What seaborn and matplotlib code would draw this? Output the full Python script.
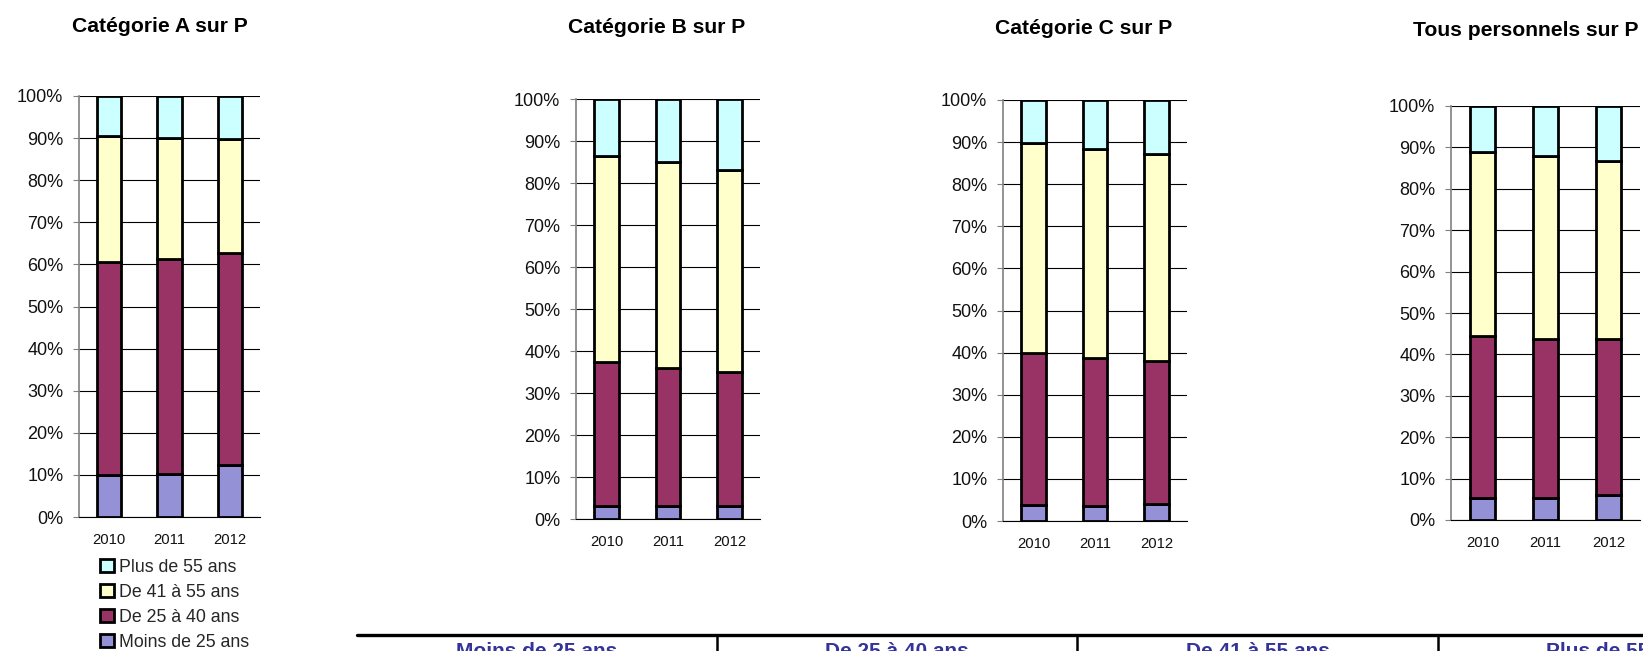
import matplotlib
matplotlib.use("Agg")
import matplotlib.pyplot as plt
import seaborn as sns
import numpy as np
from matplotlib.patches import Patch
from matplotlib.lines import Line2D

# ---------------- data ----------------
years = ["2010", "2011", "2012"]
age_groups = ["Moins de 25 ans", "De 25 à 40 ans", "De 41 à 55 ans", "Plus de 55 ans"]
panel_titles = ["Catégorie A sur P", "Catégorie B sur P", "Catégorie C sur P", "Tous personnels sur P"]

# percentages per age group (bottom to top) for 2010, 2011, 2012
cat_a_moins25 = [9.9, 10.3, 12.4]
cat_a_25_40 = [50.7, 51.1, 50.3]
cat_a_41_55 = [29.8, 28.6, 27.2]
cat_a_plus55 = [9.6, 10.0, 10.1]

cat_b_moins25 = [3.2, 3.0, 3.0]
cat_b_25_40 = [34.2, 33.0, 31.9]
cat_b_41_55 = [49.0, 48.9, 48.3]
cat_b_plus55 = [13.6, 15.1, 16.8]

cat_c_moins25 = [3.7, 3.5, 4.0]
cat_c_25_40 = [36.3, 35.1, 34.0]
cat_c_41_55 = [49.7, 49.8, 49.1]
cat_c_plus55 = [10.3, 11.6, 12.9]

tous_moins25 = [5.2, 5.3, 6.0]
tous_25_40 = [39.3, 38.5, 37.8]
tous_41_55 = [44.5, 44.1, 43.0]
tous_plus55 = [11.0, 12.1, 13.2]

y_ticks = list(range(0, 101, 10))
y_tick_labels = [f"{v}%" for v in y_ticks]

panels = [
    [cat_a_moins25, cat_a_25_40, cat_a_41_55, cat_a_plus55],
    [cat_b_moins25, cat_b_25_40, cat_b_41_55, cat_b_plus55],
    [cat_c_moins25, cat_c_25_40, cat_c_41_55, cat_c_plus55],
    [tous_moins25, tous_25_40, tous_41_55, tous_plus55],
]

colors = ["#9491D6", "#993366", "#FFFFCC", "#CCFFFF"]

# ---------------- style ----------------
sns.set_theme(style="white")
plt.rcParams["font.family"] = ["Liberation Sans", "DejaVu Sans"]

W, H = 1643, 651
fig = plt.figure(figsize=(W / 100, H / 100), dpi=100)

# axes rectangles in pixels: left, right, top, bottom
rects_px = [
    (79, 260, 96, 517),
    (576, 760, 99, 519),
    (1003, 1187, 100, 521),
    (1451, 1640, 106, 520),
]
title_px = [(160, 32), (657, 33), (1084, 34), (1526, 36)]

for idx, (series, (l, r, t, b)) in enumerate(zip(panels, rects_px)):
    ax = fig.add_axes([l / W, (H - b) / H, (r - l) / W, (b - t) / H])
    bottom = np.zeros(len(years))
    for vals, col in zip(series, colors):
        sns.barplot(x=years, y=vals, bottom=bottom, color=col, ax=ax,
                    width=0.4, edgecolor="black", linewidth=2.0,
                    saturation=1, errorbar=None, zorder=3)
        bottom = bottom + np.array(vals)
    ax.set_xlim(-0.5, 2.5)
    ax.set_ylim(0, 100)
    ax.set_yticks(y_ticks)
    ax.set_yticklabels(y_tick_labels, fontsize=13, color="#111111")
    ax.tick_params(axis="x", length=0, pad=11.5, labelsize=10.7, labelcolor="#111111")
    ax.tick_params(axis="y", length=4.3, width=0.8, color="#808080", pad=7, left=True)
    ax.set_xlabel("")
    ax.set_ylabel("")
    ax.grid(axis="y", color="#000000", linewidth=0.8)
    ax.grid(axis="x", visible=False)
    ax.set_axisbelow(True)
    for s in ["top", "right"]:
        ax.spines[s].set_visible(False)
    ax.spines["left"].set_color("#808080")
    ax.spines["left"].set_linewidth(1.2)
    ax.spines["bottom"].set_color("#000000")
    ax.spines["bottom"].set_linewidth(0.8)
    tx, ty = title_px[idx]
    fig.text(tx / W, (H - ty) / H, panel_titles[idx], ha="center", va="baseline",
             fontsize=15.2, fontweight="bold", color="#000000")

# legend (top group first)
handles = [Patch(facecolor=c, edgecolor="black", linewidth=2.0) for c in colors][::-1]
labels = age_groups[::-1]
fig.legend(handles, labels, loc="upper left",
           bbox_to_anchor=(100 / W, (H - 559) / H), frameon=False,
           fontsize=12.8, handlelength=0.78, handleheight=0.78,
           handletextpad=0.3, labelspacing=0.45, borderpad=0, borderaxespad=0)

# bottom table header
line_y = (H - 635) / H
fig.add_artist(Line2D([357 / W, 1.0], [line_y, line_y], transform=fig.transFigure,
                      color="black", linewidth=2.4))
col_edges = [357, 717, 1077, 1438, 1798]
for x in col_edges[1:4]:
    fig.add_artist(Line2D([x / W, x / W], [line_y, 0], transform=fig.transFigure,
                          color="black", linewidth=1.8))
for i, name in enumerate(age_groups):
    cx = (col_edges[i] + col_edges[i + 1]) / 2
    fig.text(cx / W, (H - 642) / H, name, ha="center", va="top",
             fontsize=15, fontweight="bold", color="#333399")

fig.savefig("out.png", dpi=100)
